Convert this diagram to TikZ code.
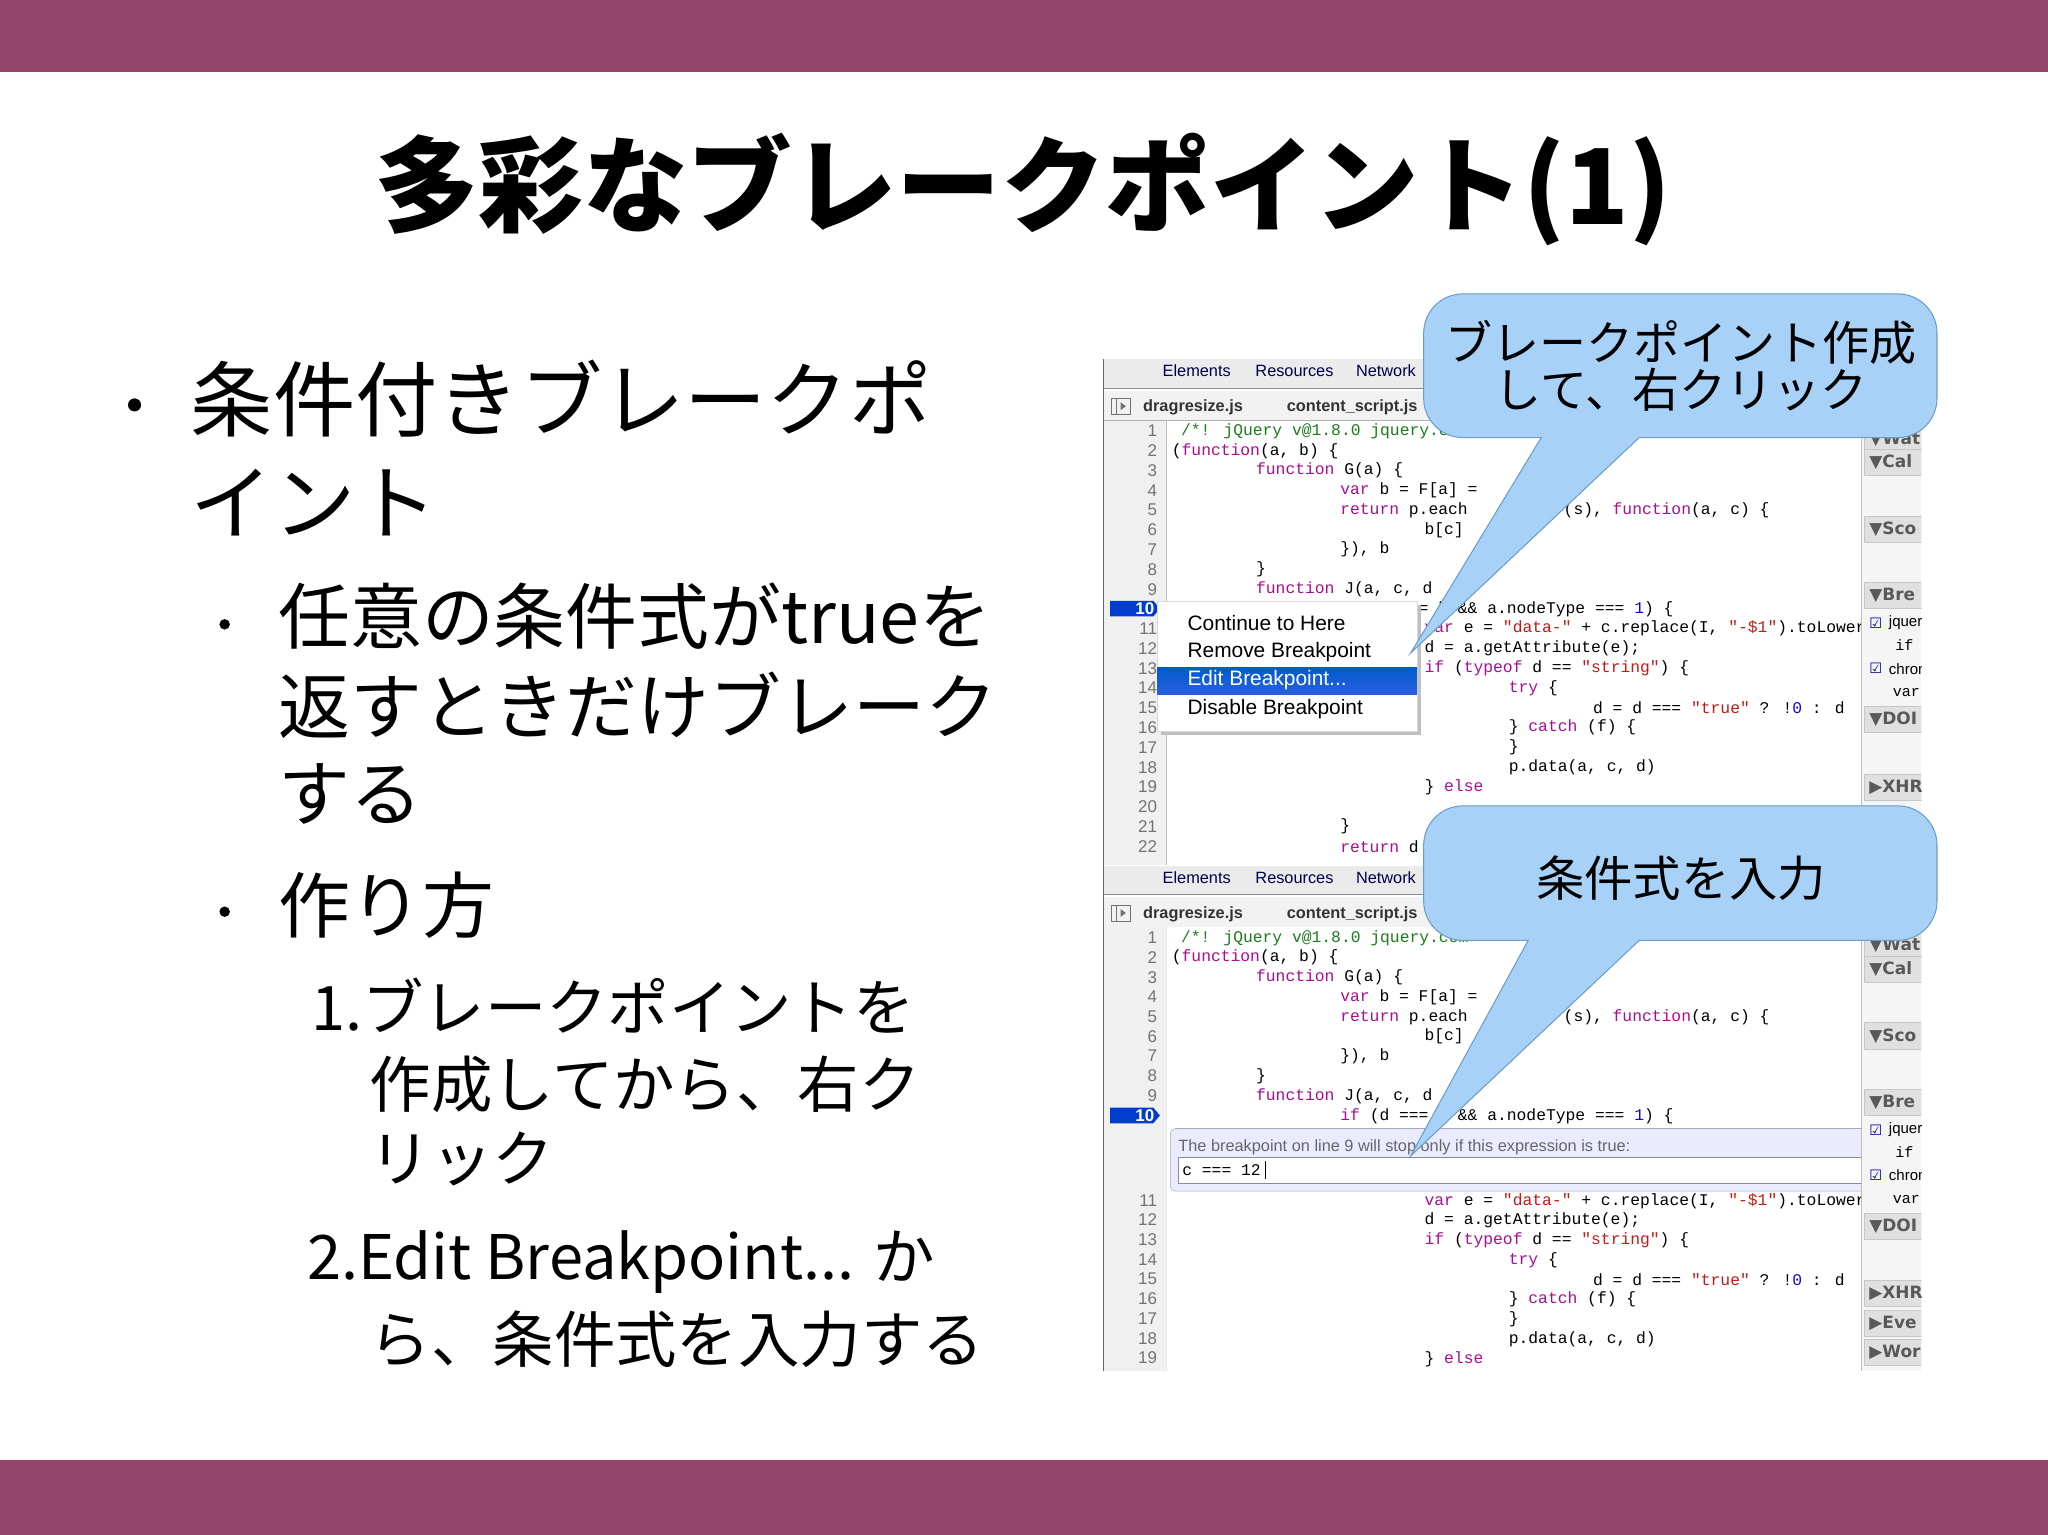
\documentclass[tikz,border=0pt]{standalone}
\usepackage{fontspec}
\setmainfont{Noto Sans CJK JP}
\newfontfamily\codefont{Liberation Mono}
\newfontfamily\uifont{Liberation Sans}
\newfontfamily\symfont{DejaVu Sans}
\definecolor{barc}{HTML}{934669}
\definecolor{kwc}{HTML}{AA0D91}
\definecolor{stc}{HTML}{C41A16}
\definecolor{cmc}{HTML}{1E7A1E}
\definecolor{nmc}{HTML}{1C00CF}
\definecolor{calfill}{HTML}{A8D1F7}
\definecolor{caldraw}{HTML}{6C9CC8}
\definecolor{menublue}{HTML}{2C5FE0}
\newcommand\kw[1]{\textcolor{kwc}{#1}}
\newcommand\st[1]{\textcolor{stc}{#1}}
\newcommand\nm[1]{\textcolor{nmc}{#1}}
\newcommand\codeln[4]{\node[code] at ({897+#1*64.5},{#2+(#3-1)*15.14}) {#4};}
\tikzset{
  code/.style={anchor=west,inner sep=0,font=\codefont\fontsize{12.5}{13}\selectfont},
  lnum/.style={anchor=east,inner sep=0,text=black!55,font=\uifont\fontsize{13}{13}\selectfont},
  tabtxt/.style={anchor=west,inner sep=0,text=black!70!blue,font=\uifont\fontsize{12.5}{13}\selectfont},
  filetxt/.style={anchor=west,inner sep=0,font=\uifont\bfseries\fontsize{12.5}{13}\selectfont,text=black!80},
  side/.style={anchor=west,inner sep=0,text=black!65,font=\uifont\bfseries\fontsize{13}{13}\selectfont},
  sidebar/.style={fill=black!12,draw=black!22},
  callout/.style={fill=calfill,draw=caldraw,line width=0.8pt},
  big/.style={anchor=west,inner sep=0},
  menu/.style={anchor=west,inner sep=0,font=\uifont\fontsize{16}{16}\selectfont},
  sidetxt/.style={anchor=west,inner sep=0,font=\uifont\fontsize{11.5}{12}\selectfont},
}
\begin{document}
\begin{tikzpicture}[x=1pt,y=-1pt]
\useasboundingbox (0,0) rectangle (1568,1175);
\fill[white] (0,0) rectangle (1568,1175);
\fill[barc] (0,0) rectangle (1568,55);
\fill[barc] (0,1118) rectangle (1568,1175);
% title
\node[inner sep=0] (title) at (783,145) {\fontsize{80}{80}\selectfont\bfseries 多彩なブレークポイント(1)};
% bullets
\fill (103,310) circle (5);
\node[big] (b1) at (146,305) {\fontsize{63}{63}\selectfont 条件付きブレークポ};
\node[big] (b1b) at (146,385) {\fontsize{63}{63}\selectfont イント};
\fill (172,478) circle (4);
\node[big] (s1) at (213,472) {\fontsize{55}{55}\selectfont 任意の条件式がtrueを};
\node[big] (s1b) at (213,540) {\fontsize{55}{55}\selectfont 返すときだけブレーク};
\node[big] (s1c) at (213,608) {\fontsize{55}{55}\selectfont する};
\fill (172,698) circle (4);
\node[big] (s2) at (213,693) {\fontsize{55}{55}\selectfont 作り方};
\node[big] (n1) at (238,770) {\fontsize{47}{47}\selectfont 1.ブレークポイントを};
\node[big] (n1b) at (283,830) {\fontsize{47}{47}\selectfont 作成してから、右ク};
\node[big] (n1c) at (283,887) {\fontsize{47}{47}\selectfont リック};
\node[big] (n2) at (235,966) {\fontsize{47}{47}\selectfont 2.Edit Breakpoint... か};
\node[big] (n2b) at (283,1025) {\fontsize{47}{47}\selectfont ら、条件式を入力する};
% ===== screenshot panels =====
\foreach \o in {0,388}{
  \begin{scope}[yshift=-\o pt]
  \fill[black!8] (845,275) rectangle (1471,297);
  \draw[black!45] (845,297) -- (1471,297);
  \node[tabtxt] at (890,284) {Elements};
  \node[tabtxt] at (961,284) {Resources};
  \node[tabtxt] at (1038,284) {Network};
  \fill[black!5] (845,299) rectangle (1471,322);
  \draw[black!30] (845,322) -- (1471,322);
  \draw[black!55] (851,305) rectangle (865,317);
  \draw[black!55] (855,305) -- (855,317);
  \fill[black!55] (858,308) -- (862,311) -- (858,314) -- cycle;
  \node[filetxt] at (875,312) {dragresize.js};
  \node[filetxt] at (985,312) {content\_script.js};
  \fill[black!6] (845,322) rectangle (893,662);
  \draw[black!25] (893,322) -- (893,662);
  \end{scope}}
\draw[black!60,line width=1pt] (845,275) -- (845,1050);
% top line numbers
\foreach \n in {1,...,22}{\node[lnum] at (886,{330+(\n-1)*15.14}) {\n};}
% bottom numbers
\foreach \n in {1,...,9}{\node[lnum] at (886,{718+(\n-1)*15.1}) {\n};}
\foreach \n in {11,...,19}{\node[lnum] at (886,{768+(\n-1)*15.1}) {\n};}
% breakpoint markers
\foreach \y in {466,854}{
  \fill[blue!70!cyan!80!black] (850,\y-6) -- (883,\y-6) -- (888,\y) -- (883,\y+6) -- (850,\y+6) -- cycle;
  \node[lnum,text=white] at (884,\y) {\bfseries 10};}
% top code
\begin{scope}
\clip (893,322) rectangle (1425,662);
\node[code] at (904,330) {\textcolor{cmc}{/*! jQuery v@1.8.0 jquery.com}};
\codeln{0}{330}{2}{(\kw{function}(a, b) \{}
\codeln{1}{330}{3}{\kw{function} G(a) \{}
\codeln{2}{330}{4}{\kw{var} b = F[a] =}
\codeln{2}{330}{5}{\kw{return} p.each}
\node[code] at (1197,390.6) {(s), \kw{function}(a, c) \{};
\codeln{3}{330}{6}{b[c]}
\codeln{2}{330}{7}{\}), b}
\codeln{1}{330}{8}{\}}
\codeln{1}{330}{9}{\kw{function} J(a, c, d}
\codeln{2}{330}{10}{\kw{if} (d === b \&\& a.nodeType === \nm{1}) \{}
\codeln{3}{330}{11}{\kw{var} e = \st{"data-"} + c.replace(I, \st{"-\$1"}).toLowerCase();}
\codeln{3}{330}{12}{d = a.getAttribute(e);}
\codeln{3}{330}{13}{\kw{if} (\kw{typeof} d == \st{"string"}) \{}
\codeln{4}{330}{14}{\kw{try} \{}
\codeln{5}{330}{15}{d = d === \st{"true"} ? !\nm{0} : d}
\codeln{4}{330}{16}{\} \kw{catch} (f) \{}
\codeln{4}{330}{17}{\}}
\codeln{4}{330}{18}{p.data(a, c, d)}
\codeln{3}{330}{19}{\} \kw{else}}
\codeln{2}{330}{21}{\}}
\codeln{2}{330}{22}{\kw{return} d}
\end{scope}
% context menu
\fill[black!25] (889,463) rectangle (1088,563);
\fill[white,draw=black!15] (886,460) rectangle (1085,560);
\shade[top color=blue!55!cyan!80!black,bottom color=menublue] (886,511) rectangle (1085,532);
\node[menu] (m1) at (909,477) {Continue to Here};
\node[menu] (m2) at (909,499) {Remove Breakpoint};
\node[menu,text=white] (m3) at (909,521) {Edit Breakpoint...};
\node[menu] (m4) at (909,543) {Disable Breakpoint};
% bottom code
\begin{scope}
\clip (893,710) rectangle (1425,1050);
\fill[white] (893,710) rectangle (1425,1050);
\node[code] at (904,718) {\textcolor{cmc}{/*! jQuery v@1.8.0 jquery.com}};
\codeln{0}{718}{2}{(\kw{function}(a, b) \{}
\codeln{1}{718}{3}{\kw{function} G(a) \{}
\codeln{2}{718}{4}{\kw{var} b = F[a] =}
\codeln{2}{718}{5}{\kw{return} p.each}
\node[code] at (1197,778.6) {(s), \kw{function}(a, c) \{};
\codeln{3}{718}{6}{b[c]}
\codeln{2}{718}{7}{\}), b}
\codeln{1}{718}{8}{\}}
\codeln{1}{718}{9}{\kw{function} J(a, c, d}
\codeln{2}{718}{10}{\kw{if} (d === b \&\& a.nodeType === \nm{1}) \{}
\codeln{3}{768}{11}{\kw{var} e = \st{"data-"} + c.replace(I, \st{"-\$1"}).toLowerCase();}
\codeln{3}{768}{12}{d = a.getAttribute(e);}
\codeln{3}{768}{13}{\kw{if} (\kw{typeof} d == \st{"string"}) \{}
\codeln{4}{768}{14}{\kw{try} \{}
\codeln{5}{768}{15}{d = d === \st{"true"} ? !\nm{0} : d}
\codeln{4}{768}{16}{\} \kw{catch} (f) \{}
\codeln{4}{768}{17}{\}}
\codeln{4}{768}{18}{p.data(a, c, d)}
\codeln{3}{768}{19}{\} \kw{else}}
\end{scope}
% edit box
\fill[blue!8,draw=blue!30!black!35,rounded corners=4] (896,864) rectangle (1432,912);
\node[anchor=west,inner sep=0,text=black!60,font=\uifont\fontsize{12.5}{13}\selectfont] (cond) at (902,878) {The breakpoint on line 9 will stop only if this expression is true:};
\fill[white,draw=black!45] (902,886) rectangle (1432,906);
\node[anchor=west,inner sep=0,font=\codefont\fontsize{12.5}{13}\selectfont] (inp) at (905,896) {c === 12};
\draw (969,889) -- (969,903);
% side panels
\foreach \o/\last in {0/1,388/2}{
\begin{scope}[yshift=-\o pt]
  \clip (1425,322) rectangle (1471,662);
  \fill[black!4] (1425,322) rectangle (1471,662);
  \draw[black!35] (1425,322) -- (1425,662);
  \foreach \y/\t in {336/▼Wat,354/▼Cal,405/▼Sco,456/▼Bre,551/▼DOI}{
    \fill[sidebar] (1427,\y-10) rectangle (1475,\y+10);
    \node[side] at (1431,\y) {\symfont\t};}
  \ifnum\last=1
    \fill[sidebar] (1427,593) rectangle (1475,613);
    \node[side] at (1431,603) {\symfont ▶XHR};
  \else
    \foreach \y/\t in {602/▶XHR,625/▶Eve,647/▶Wor}{
      \fill[sidebar] (1427,\y-10) rectangle (1475,\y+10);
      \node[side] at (1431,\y) {\symfont\t};}
  \fi
  \node[anchor=west,inner sep=0,font=\symfont\fontsize{11}{11}\selectfont,text=blue!60!black] at (1431,477) {☑};
  \node[sidetxt] at (1446,477) {jquery};
  \node[sidetxt,font=\codefont\fontsize{11.5}{12}\selectfont] at (1451,494) {if};
  \node[anchor=west,inner sep=0,font=\symfont\fontsize{11}{11}\selectfont,text=blue!60!black] at (1431,512) {☑};
  \node[sidetxt] at (1446,512) {chrome};
  \node[sidetxt,font=\codefont\fontsize{11.5}{12}\selectfont] at (1449,530) {var};
\end{scope}}
% callouts
\draw[callout] (1180,335) -- (1080,500) -- (1255,335) [rounded corners=30] -- (1483,335) -- (1483,225) -- (1090,225) -- (1090,335) [sharp corners] -- cycle;
\node[align=center,inner sep=0,font=\fontsize{36}{36}\selectfont] (c1) at (1287,280) {ブレークポイント作成\\して、右クリック};
\draw[callout] (1170,720) -- (1080,885) -- (1255,720) [rounded corners=30] -- (1483,720) -- (1483,617) -- (1090,617) -- (1090,720) [sharp corners] -- cycle;
\node[inner sep=0,font=\fontsize{37}{37}\selectfont] (c2) at (1287,672) {条件式を入力};
\end{tikzpicture}
\end{document}
